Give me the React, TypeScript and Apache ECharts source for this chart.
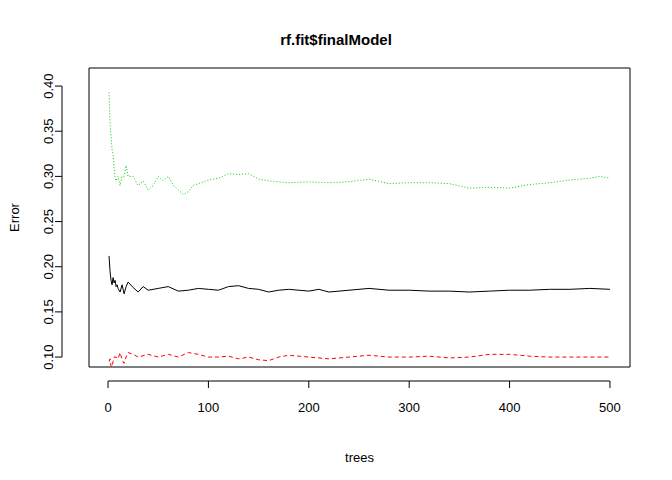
import React, { useEffect, useRef } from "react";
import * as echarts from "echarts";

const oobX = [1,2,3,4,5,6,7,8,9,10,12,14,16,18,20,25,30,35,40,50,60,70,80,90,100,110,120,130,140,150,160,170,180,190,200,210,220,240,260,280,300,320,340,360,380,400,420,440,460,480,500];
const oobY = [0.212,0.195,0.185,0.18,0.188,0.182,0.185,0.178,0.18,0.176,0.172,0.18,0.17,0.178,0.183,0.177,0.172,0.178,0.174,0.176,0.178,0.173,0.174,0.176,0.175,0.174,0.178,0.179,0.176,0.175,0.172,0.174,0.175,0.174,0.173,0.175,0.172,0.174,0.176,0.174,0.174,0.173,0.173,0.172,0.173,0.174,0.174,0.175,0.175,0.176,0.175];
const c1X = [1,2,3,4,5,6,8,10,12,14,16,18,20,25,30,40,50,60,70,80,90,100,110,120,130,140,150,160,170,180,200,220,240,260,280,300,320,340,360,380,400,420,440,460,480,500];
const c1Y = [0.095,0.098,0.09,0.089,0.095,0.1,0.1,0.098,0.105,0.097,0.093,0.1,0.105,0.103,0.1,0.103,0.1,0.103,0.1,0.105,0.103,0.1,0.1,0.101,0.098,0.1,0.097,0.096,0.1,0.102,0.1,0.098,0.1,0.102,0.1,0.1,0.101,0.099,0.1,0.103,0.103,0.101,0.1,0.1,0.1,0.1];
const c2X = [1,2,3,4,5,6,7,8,10,12,14,16,18,20,25,30,35,40,45,50,55,60,65,70,75,80,85,90,100,110,120,130,140,150,160,170,180,200,220,240,260,280,300,320,340,360,380,400,420,440,460,480,490,500];
const c2Y = [0.393,0.36,0.345,0.33,0.325,0.31,0.3,0.295,0.3,0.29,0.3,0.3,0.312,0.3,0.3,0.29,0.295,0.285,0.29,0.3,0.295,0.3,0.29,0.285,0.28,0.283,0.29,0.292,0.296,0.298,0.303,0.302,0.303,0.297,0.295,0.294,0.293,0.294,0.293,0.294,0.297,0.292,0.293,0.293,0.292,0.287,0.288,0.287,0.291,0.293,0.296,0.298,0.3,0.298];
const xTicks = [0, 100, 200, 300, 400, 500];
const yTicks = [0.1, 0.15, 0.2, 0.25, 0.3, 0.35, 0.4];

const zip = (xs: number[], ys: number[]) => xs.map((x, i) => [x, ys[i]]);
const font = "Liberation Sans";

export default function App() {
  const ref = useRef<HTMLDivElement>(null);
  useEffect(() => {
    const chart = echarts.init(ref.current!, null, { renderer: "svg" });
    const line = (name: string, xs: number[], ys: number[], color: string, type: any) => ({
      name, type: "line", data: zip(xs, ys), showSymbol: false, symbol: "none",
      lineStyle: { color, width: 1, type },
    });
    chart.setOption({
      animation: false,
      backgroundColor: "#fff",
      title: { text: "rf.fit$finalModel", left: "center", top: 27, textStyle: { fontFamily: font, fontSize: 15, fontWeight: "bold", color: "#000" } },
      grid: { left: 78, right: 42, top: 68, bottom: 113, show: true, borderColor: "#000", borderWidth: 1 },
      xAxis: {
        type: "value", min: -18.96, max: 519.96, offset: 14,
        name: "trees", nameLocation: "middle", nameGap: 70,
        nameTextStyle: { fontFamily: font, fontSize: 13, color: "#000" },
        axisLine: { show: false },
        axisTick: { show: false },
        axisLabel: { fontFamily: font, fontSize: 13, color: "#000", margin: 20, customValues: xTicks },
        splitLine: { show: false },
      },
      yAxis: {
        type: "value", min: 0.089, max: 0.42, offset: 16,
        name: "Error", nameLocation: "middle", nameGap: 52, nameRotate: 90,
        nameTextStyle: { fontFamily: font, fontSize: 13, color: "#000" },
        axisLine: { show: false },
        axisTick: { show: false },
        axisLabel: { fontFamily: font, fontSize: 13, color: "#000", rotate: 90, margin: 18, customValues: yTicks, formatter: (v: number) => v.toFixed(2) },
        splitLine: { show: false },
      },
      series: [
        line("OOB", oobX, oobY, "#000", "solid"),
        line("1", c1X, c1Y, "#ff0000", [4, 3]),
        line("2", c2X, c2Y, "#00cd00", [1, 2]),
      ],
    });
    const px = (x: number, y: number) => chart.convertToPixel({ gridIndex: 0 }, [x, y]) as number[];
    const p0 = px(xTicks[0], yTicks[0]);
    const p1 = px(xTicks[xTicks.length - 1], yTicks[yTicks.length - 1]);
    const bottom = 367 + 14, left = 78 - 16;
    const st = { stroke: "#000", lineWidth: 1 };
    const g: any[] = [
      { type: "line", shape: { x1: p0[0], y1: bottom, x2: p1[0], y2: bottom }, style: st },
      { type: "line", shape: { x1: left, y1: p0[1], x2: left, y2: p1[1] }, style: st },
    ];
    xTicks.forEach((t) => { const p = px(t, yTicks[0]); g.push({ type: "line", shape: { x1: p[0], y1: bottom, x2: p[0], y2: bottom + 7 }, style: st }); });
    yTicks.forEach((t) => { const p = px(xTicks[0], t); g.push({ type: "line", shape: { x1: left, y1: p[1], x2: left - 7, y2: p[1] }, style: st }); });
    chart.setOption({ graphic: g });
    return () => chart.dispose();
  }, []);
  return <div ref={ref} style={{ width: 672, height: 480, margin: -8 }} />;
}
